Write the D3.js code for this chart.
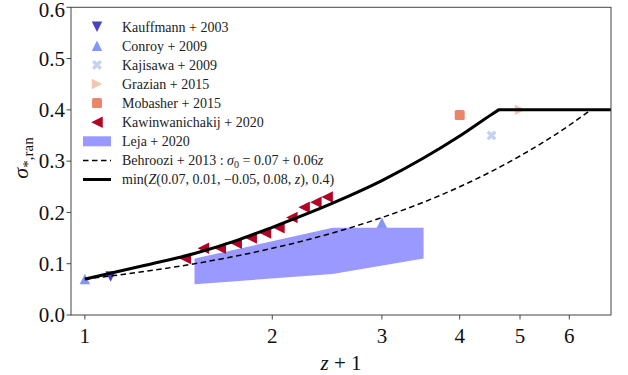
<!DOCTYPE html>
<html>
<head>
<meta charset="utf-8">
<script src="https://cdn.jsdelivr.net/npm/d3@7"></script>
<style>
  body { margin: 0; background: #fff; }
</style>
</head>
<body>
<svg id="chart" width="628" height="375" font-family="'Liberation Serif', 'Times New Roman', 'DejaVu Serif', serif"></svg>
<script>
// ---- observational compilations (z+1, sigma) ----
const kauffmannX = [1.1];
const kauffmannY = [0.075];
const conroyX = [1.0, 3.0];
const conroyY = [0.07, 0.18];
const kajisawaX = [4.5];
const kajisawaY = [0.35];
const grazianX = [5.0];
const grazianY = [0.40];
const mobasherX = [4.0];
const mobasherY = [0.39];
const kawinX = [1.45, 1.55, 1.65, 1.75, 1.85, 1.95, 2.05, 2.15, 2.25, 2.35, 2.45];
const kawinY = [0.11, 0.13, 0.13, 0.14, 0.15, 0.16, 0.17, 0.19, 0.21, 0.22, 0.23];
const lejaX  = [1.5, 2.5, 3.5];
const lejaLo = [0.06, 0.08, 0.11];
const lejaHi = [0.11, 0.17, 0.17];

// ---- model curves ----
const behrooziX = [1.0, 1.25, 1.5, 1.75, 2.0, 2.5, 3.0, 3.5, 4.0, 4.5, 5.0, 5.5, 6.0, 6.5];
const behrooziY = [0.070, 0.085, 0.100, 0.115, 0.130, 0.160, 0.190, 0.220, 0.250, 0.280, 0.310, 0.340, 0.370, 0.400];
const modelX = [1.0, 1.25, 1.5, 1.75, 2.0, 2.5, 3.0, 3.5, 4.0, 4.5, 4.62];
const modelY = [0.070, 0.097, 0.120, 0.145, 0.171, 0.218, 0.262, 0.306, 0.349, 0.391, 0.400];
const capValue = 0.4;
const xEnd = 7.0;

// ---- axes ----
const xTicks = [1, 2, 3, 4, 5, 6];
const yTicks = [0.0, 0.1, 0.2, 0.3, 0.4, 0.5, 0.6];

const colors = {
  kauffmann: "#4b42c0",
  conroy: "#8597f5",
  kajisawa: "#c3d3f4",
  grazian: "#f2c6b0",
  mobasher: "#ec846a",
  kawin: "#b40426",
  leja: "#9999ff"
};

const svg = d3.select("#chart");
const L = 71, R = 611, T = 7.3, B = 315;
const x = d3.scaleLog().domain([0.95, 7.0]).range([L, R]);
const y = d3.scaleLinear().domain([0, 0.6]).range([B, T]);

const zip = (a, b) => a.map((v, i) => [v, b[i]]);

// marker shapes, centred on the bounding box
function triPath(s, dir) {
  const h = s / 2;
  if (dir === "up")    return `M0,${-h}L${h},${h}L${-h},${h}Z`;
  if (dir === "down")  return `M0,${h}L${h},${-h}L${-h},${-h}Z`;
  if (dir === "left")  return `M${-h},0L${h},${-h}L${h},${h}Z`;
  return `M${h},0L${-h},${-h}L${-h},${h}Z`;
}
function crossPath(s) {
  const h = s / 2, t = s * 0.24;
  return `M${-h},${-h + t}L${-h + t},${-h}L0,${-t}L${h - t},${-h}L${h},${-h + t}L${t},0L${h},${h - t}L${h - t},${h}L0,${t}L${-h + t},${h}L${-h},${h - t}L${-t},0Z`;
}
function squarePath(s) {
  const h = s / 2, r = 1.6;
  return `M${-h + r},${-h}H${h - r}Q${h},${-h} ${h},${-h + r}V${h - r}Q${h},${h} ${h - r},${h}H${-h + r}Q${-h},${h} ${-h},${h - r}V${-h + r}Q${-h},${-h} ${-h + r},${-h}Z`;
}

const plot = svg.append("g");

// Leja band
const area = d3.area().x(d => x(d[0])).y0(d => y(d[1])).y1(d => y(d[2]));
plot.append("path")
  .datum(lejaX.map((v, i) => [v, lejaLo[i], lejaHi[i]]))
  .attr("d", area).attr("fill", colors.leja);

// point markers
function drawPoints(xs, ys, path, color) {
  plot.selectAll(null).data(zip(xs, ys)).enter().append("path")
    .attr("d", path)
    .attr("transform", d => `translate(${x(d[0])},${y(d[1])})`)
    .attr("fill", color);
}
drawPoints(kauffmannX, kauffmannY, triPath(10.5, "down"), colors.kauffmann);
drawPoints(conroyX, conroyY, triPath(10.5, "up"), colors.conroy);
drawPoints(kajisawaX, kajisawaY, crossPath(10), colors.kajisawa);
drawPoints(grazianX, grazianY, triPath(10.5, "right"), colors.grazian);
drawPoints(mobasherX, mobasherY, squarePath(10), colors.mobasher);
drawPoints(kawinX, kawinY, triPath(11.5, "left"), colors.kawin);

// model curves: rising part smooth, then capped at 0.4
const line = d3.line().x(d => x(d[0])).y(d => y(d[1])).curve(d3.curveMonotoneX);
function cappedPath(xs, ys) {
  return line(zip(xs, ys)) + `L${x(xEnd)},${y(capValue)}`;
}
plot.append("path").attr("d", cappedPath(behrooziX, behrooziY))
  .attr("fill", "none").attr("stroke", "#000").attr("stroke-width", 1.5)
  .attr("stroke-dasharray", "5.5,3.5");
plot.append("path").attr("d", cappedPath(modelX, modelY))
  .attr("fill", "none").attr("stroke", "#000").attr("stroke-width", 3)
  .attr("stroke-linejoin", "round");

// frame
svg.append("rect").attr("x", L).attr("y", T).attr("width", R - L).attr("height", B - T)
  .attr("fill", "none").attr("stroke", "#444").attr("stroke-width", 1);

// y axis
const yAxis = svg.append("g").attr("fill", "#111");
yTicks.forEach(t => {
  yAxis.append("line").attr("x1", L - 4.5).attr("x2", L).attr("y1", y(t)).attr("y2", y(t))
    .attr("stroke", "#444").attr("stroke-width", 1);
  yAxis.append("text").attr("x", L - 6).attr("y", y(t) + (t === 0.6 ? 3 : 0)).attr("dy", "0.34em")
    .attr("text-anchor", "end").attr("font-size", 21).text(d3.format(".1f")(t));
});
// x axis
const xAxis = svg.append("g").attr("fill", "#111");
xTicks.forEach(t => {
  xAxis.append("line").attr("x1", x(t)).attr("x2", x(t)).attr("y1", B).attr("y2", B + 4.5)
    .attr("stroke", "#444").attr("stroke-width", 1);
  xAxis.append("text").attr("x", x(t)).attr("y", 342.5)
    .attr("text-anchor", "middle").attr("font-size", 21).text(t);
});

// axis labels
const xl = svg.append("text").attr("x", (L + R) / 2).attr("y", 370)
  .attr("text-anchor", "middle").attr("font-size", 21).attr("fill", "#111");
xl.append("tspan").attr("font-style", "italic").text("z");
xl.append("tspan").text(" + 1");

const yl = svg.append("text").attr("transform", `translate(28,158) rotate(-90)`)
  .attr("text-anchor", "middle").attr("font-size", 22).attr("fill", "#111");
yl.append("tspan").attr("font-style", "italic").text("σ");
yl.append("tspan").attr("font-size", 15).attr("dy", 5).text("*,ran");

// legend
const lg = svg.append("g").attr("font-size", 14).attr("fill", "#222");
const lx = 97, tx = 122, ly0 = 26.7, step = 19.1;
const legendItems = [
  { label: "Kauffmann + 2003", path: triPath(10.5, "down"), color: colors.kauffmann },
  { label: "Conroy + 2009", path: triPath(10.5, "up"), color: colors.conroy },
  { label: "Kajisawa + 2009", path: crossPath(10), color: colors.kajisawa },
  { label: "Grazian + 2015", path: triPath(10.5, "right"), color: colors.grazian },
  { label: "Mobasher + 2015", path: squarePath(10), color: colors.mobasher },
  { label: "Kawinwanichakij + 2020", path: triPath(11.5, "left"), color: colors.kawin }
];
legendItems.forEach((it, i) => {
  const yy = ly0 + i * step;
  lg.append("path").attr("d", it.path).attr("transform", `translate(${lx},${yy})`).attr("fill", it.color);
  lg.append("text").attr("x", tx).attr("y", yy).attr("dy", "0.35em").text(it.label);
});
let yy = ly0 + 6 * step;
lg.append("rect").attr("x", 83).attr("y", yy - 5).attr("width", 28).attr("height", 10).attr("fill", colors.leja);
lg.append("text").attr("x", tx).attr("y", yy).attr("dy", "0.35em").text("Leja + 2020");
yy = ly0 + 7 * step;
lg.append("line").attr("x1", 83).attr("x2", 111).attr("y1", yy).attr("y2", yy)
  .attr("stroke", "#000").attr("stroke-width", 1.5).attr("stroke-dasharray", "5.5,3.5");
const bt = lg.append("text").attr("x", tx).attr("y", yy).attr("dy", "0.35em");
bt.append("tspan").text("Behroozi + 2013 :  ");
bt.append("tspan").attr("font-style", "italic").text("σ");
bt.append("tspan").attr("font-size", 10).attr("dy", 3).text("0");
bt.append("tspan").attr("dy", -3).text(" = 0.07 + 0.06");
bt.append("tspan").attr("font-style", "italic").text("z");
yy = ly0 + 8 * step;
lg.append("line").attr("x1", 83).attr("x2", 111).attr("y1", yy).attr("y2", yy)
  .attr("stroke", "#000").attr("stroke-width", 3);
const mt = lg.append("text").attr("x", tx).attr("y", yy).attr("dy", "0.35em");
mt.append("tspan").text("min(");
mt.append("tspan").attr("font-style", "italic").text("Z");
mt.append("tspan").text("(0.07, 0.01, −0.05, 0.08, ");
mt.append("tspan").attr("font-style", "italic").text("z");
mt.append("tspan").text("), 0.4)");
</script>
</body>
</html>
